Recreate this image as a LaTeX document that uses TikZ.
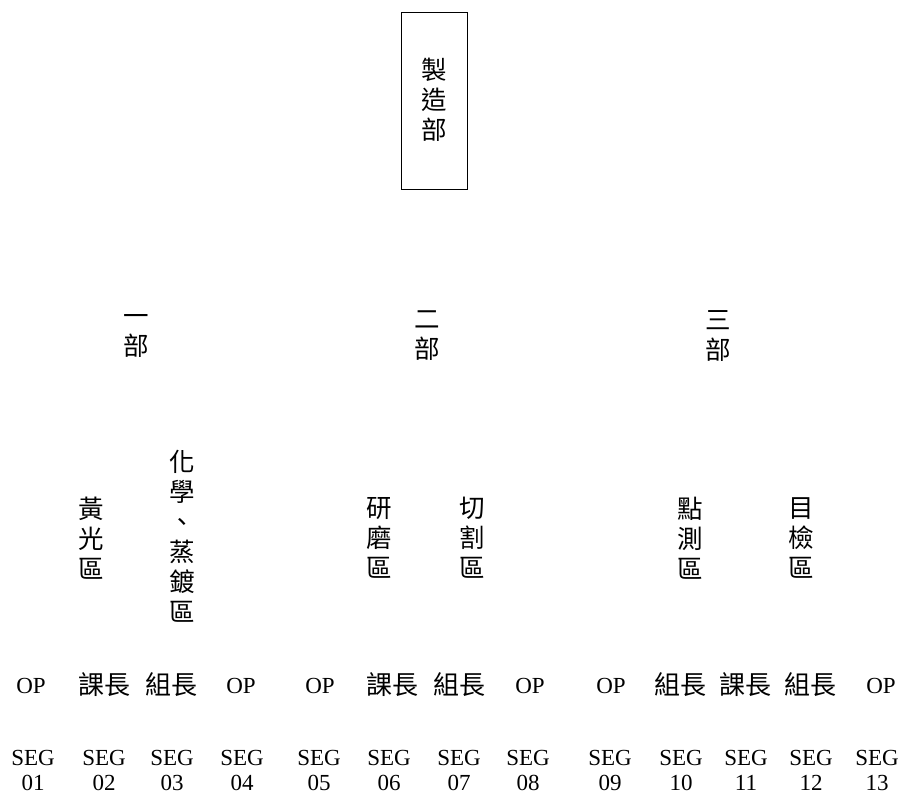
\documentclass[tikz,border=0pt]{standalone}
\usepackage{fontspec}
\setmainfont{Liberation Serif}
\newfontfamily\cjk{Noto Sans CJK TC}
\begin{document}
\begin{tikzpicture}[x=1pt,y=-1pt,
  vt/.style={font=\cjk\fontsize{25.5}{30}\selectfont, align=center, inner sep=0pt},
  hz/.style={font=\cjk\fontsize{26}{28}\selectfont, inner sep=0pt},
  lat/.style={font=\fontsize{23}{25}\selectfont, align=center, inner sep=0pt},
  boxed/.style={draw, line width=1pt, minimum width=66pt, minimum height=177pt}]
\useasboundingbox (0,0) rectangle (906,795);
% top box
\node[boxed] (mfg) at (434,100.5) {};
\node[vt] (mfgtxt) at (434,100) {製\\造\\部};
% departments
\node[vt] (d1) at (136,336) {一\\部};
\node[vt] (d2) at (427,336) {二\\部};
\node[vt] (d3) at (718,336) {三\\部};
% areas
\node[vt] (a1) at (91,538) {黃\\光\\區};
\node[vt] (a2) at (182,536) {化\\學\\、\\蒸\\鍍\\區};
\node[vt] (a3) at (379,538) {研\\磨\\區};
\node[vt] (a4) at (472,538) {切\\割\\區};
\node[vt] (a5) at (690,538) {點\\測\\區};
\node[vt] (a6) at (801,538) {目\\檢\\區};
% roles
\node[lat] (r1) at (31,686) {OP};
\node[hz]  (r2) at (104,685) {課長};
\node[hz]  (r3) at (171,685) {組長};
\node[lat] (r4) at (241,686) {OP};
\node[lat] (r5) at (320,686) {OP};
\node[hz]  (r6) at (392,685) {課長};
\node[hz]  (r7) at (459,685) {組長};
\node[lat] (r8) at (530,686) {OP};
\node[lat] (r9) at (611,686) {OP};
\node[hz]  (r10) at (680,685) {組長};
\node[hz]  (r11) at (745,685) {課長};
\node[hz]  (r12) at (810,685) {組長};
\node[lat] (r13) at (881,686) {OP};
% segments
\node[lat] (s1) at (33,770) {SEG\\01};
\node[lat] (s2) at (104,770) {SEG\\02};
\node[lat] (s3) at (172,770) {SEG\\03};
\node[lat] (s4) at (242,770) {SEG\\04};
\node[lat] (s5) at (319,770) {SEG\\05};
\node[lat] (s6) at (389,770) {SEG\\06};
\node[lat] (s7) at (459,770) {SEG\\07};
\node[lat] (s8) at (528,770) {SEG\\08};
\node[lat] (s9) at (610,770) {SEG\\09};
\node[lat] (s10) at (681,770) {SEG\\10};
\node[lat] (s11) at (746,770) {SEG\\11};
\node[lat] (s12) at (811,770) {SEG\\12};
\node[lat] (s13) at (877,770) {SEG\\13};
\end{tikzpicture}
\end{document}
